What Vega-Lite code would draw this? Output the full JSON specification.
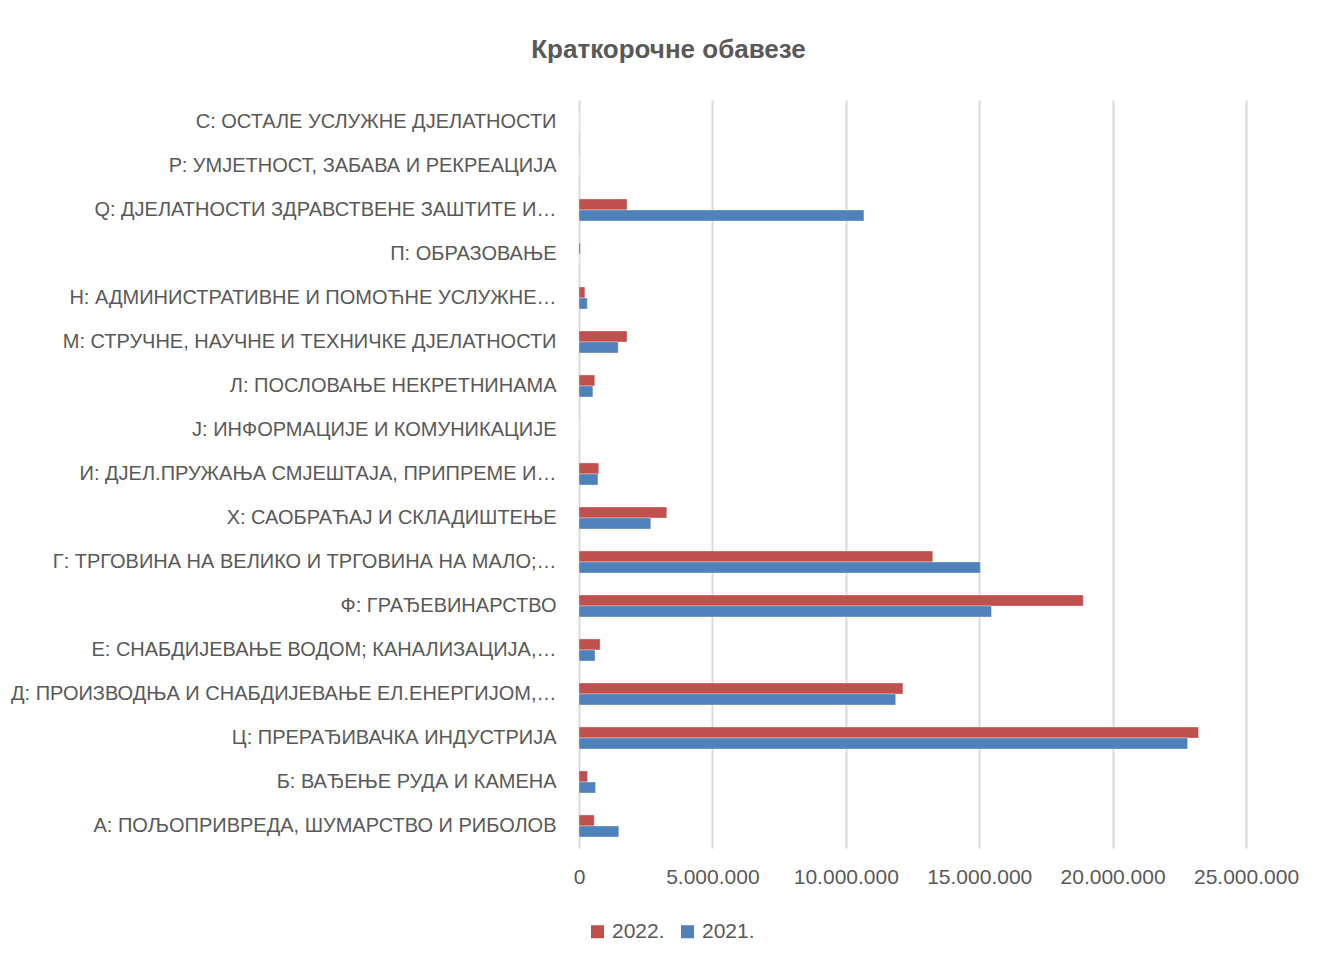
{
  "$schema": "https://vega.github.io/schema/vega-lite/v6.json",
  "autosize": {"type": "none"},
  "padding": {"left": 579, "top": 100, "right": 74, "bottom": 115},
  "width": 667,
  "height": 748,
  "background": "white",
  "config": {
    "locale": {"number": {"decimal": ",", "thousands": ".", "grouping": [3], "currency": ["", ""]}},
    "font": "Liberation Sans",
    "view": {"stroke": null}
  },
  "title": {
    "text": "Краткорочне обавезе",
    "fontSize": 26,
    "fontWeight": "bold",
    "color": "#595959",
    "font": "Liberation Sans",
    "anchor": "middle",
    "frame": "group",
    "dx": -244,
    "offset": 37
  },
  "data": {
    "values": [
      {"category": "С: ОСТАЛЕ УСЛУЖНЕ ДЈЕЛАТНОСТИ", "year": "2022.", "value": 0},
      {"category": "С: ОСТАЛЕ УСЛУЖНЕ ДЈЕЛАТНОСТИ", "year": "2021.", "value": 0},
      {"category": "Р: УМЈЕТНОСТ, ЗАБАВА И РЕКРЕАЦИЈА", "year": "2022.", "value": 0},
      {"category": "Р: УМЈЕТНОСТ, ЗАБАВА И РЕКРЕАЦИЈА", "year": "2021.", "value": 0},
      {"category": "Q: ДЈЕЛАТНОСТИ ЗДРАВСТВЕНЕ ЗАШТИТЕ И…", "year": "2022.", "value": 1800000},
      {"category": "Q: ДЈЕЛАТНОСТИ ЗДРАВСТВЕНЕ ЗАШТИТЕ И…", "year": "2021.", "value": 10680000},
      {"category": "П: ОБРАЗОВАЊЕ", "year": "2022.", "value": 50000},
      {"category": "П: ОБРАЗОВАЊЕ", "year": "2021.", "value": 0},
      {"category": "Н: АДМИНИСТРАТИВНЕ И ПОМОЋНЕ УСЛУЖНЕ…", "year": "2022.", "value": 220000},
      {"category": "Н: АДМИНИСТРАТИВНЕ И ПОМОЋНЕ УСЛУЖНЕ…", "year": "2021.", "value": 310000},
      {"category": "М: СТРУЧНЕ, НАУЧНЕ И ТЕХНИЧКЕ ДЈЕЛАТНОСТИ", "year": "2022.", "value": 1800000},
      {"category": "М: СТРУЧНЕ, НАУЧНЕ И ТЕХНИЧКЕ ДЈЕЛАТНОСТИ", "year": "2021.", "value": 1470000},
      {"category": "Л: ПОСЛОВАЊЕ НЕКРЕТНИНАМА", "year": "2022.", "value": 590000},
      {"category": "Л: ПОСЛОВАЊЕ НЕКРЕТНИНАМА", "year": "2021.", "value": 520000},
      {"category": "Ј: ИНФОРМАЦИЈЕ И КОМУНИКАЦИЈЕ", "year": "2022.", "value": 0},
      {"category": "Ј: ИНФОРМАЦИЈЕ И КОМУНИКАЦИЈЕ", "year": "2021.", "value": 0},
      {"category": "И: ДЈЕЛ.ПРУЖАЊА СМЈЕШТАЈА, ПРИПРЕМЕ И…", "year": "2022.", "value": 740000},
      {"category": "И: ДЈЕЛ.ПРУЖАЊА СМЈЕШТАЈА, ПРИПРЕМЕ И…", "year": "2021.", "value": 710000},
      {"category": "Х: САОБРАЋАЈ И СКЛАДИШТЕЊЕ", "year": "2022.", "value": 3290000},
      {"category": "Х: САОБРАЋАЈ И СКЛАДИШТЕЊЕ", "year": "2021.", "value": 2690000},
      {"category": "Г: ТРГОВИНА НА ВЕЛИКО И ТРГОВИНА НА МАЛО;…", "year": "2022.", "value": 13260000},
      {"category": "Г: ТРГОВИНА НА ВЕЛИКО И ТРГОВИНА НА МАЛО;…", "year": "2021.", "value": 15040000},
      {"category": "Ф: ГРАЂЕВИНАРСТВО", "year": "2022.", "value": 18900000},
      {"category": "Ф: ГРАЂЕВИНАРСТВО", "year": "2021.", "value": 15460000},
      {"category": "Е: СНАБДИЈЕВАЊЕ ВОДОМ; КАНАЛИЗАЦИЈА,…", "year": "2022.", "value": 790000},
      {"category": "Е: СНАБДИЈЕВАЊЕ ВОДОМ; КАНАЛИЗАЦИЈА,…", "year": "2021.", "value": 600000},
      {"category": "Д: ПРОИЗВОДЊА И СНАБДИЈЕВАЊЕ ЕЛ.ЕНЕРГИЈОМ,…", "year": "2022.", "value": 12140000},
      {"category": "Д: ПРОИЗВОДЊА И СНАБДИЈЕВАЊЕ ЕЛ.ЕНЕРГИЈОМ,…", "year": "2021.", "value": 11870000},
      {"category": "Ц: ПРЕРАЂИВАЧКА ИНДУСТРИЈА", "year": "2022.", "value": 23220000},
      {"category": "Ц: ПРЕРАЂИВАЧКА ИНДУСТРИЈА", "year": "2021.", "value": 22810000},
      {"category": "Б: ВАЂЕЊЕ РУДА И КАМЕНА", "year": "2022.", "value": 320000},
      {"category": "Б: ВАЂЕЊЕ РУДА И КАМЕНА", "year": "2021.", "value": 620000},
      {"category": "А: ПОЉОПРИВРЕДА, ШУМАРСТВО И РИБОЛОВ", "year": "2022.", "value": 570000},
      {"category": "А: ПОЉОПРИВРЕДА, ШУМАРСТВО И РИБОЛОВ", "year": "2021.", "value": 1490000}
    ]
  },
  "mark": {"type": "bar", "stroke": "white", "strokeOpacity": 0.35, "strokeWidth": 1},
  "encoding": {
    "y": {
      "field": "category",
      "type": "nominal",
      "sort": null,
      "scale": {"paddingInner": 0.5, "paddingOuter": 0.25},
      "axis": {
        "title": null,
        "domain": false,
        "ticks": false,
        "labelPadding": 23,
        "labelFontSize": 20,
        "labelColor": "#595959",
        "labelLimit": 600,
        "labelFont": "Liberation Sans"
      }
    },
    "yOffset": {
      "field": "year",
      "type": "nominal",
      "sort": ["2022.", "2021."],
      "scale": {"paddingInner": 0, "paddingOuter": 0}
    },
    "x": {
      "field": "value",
      "type": "quantitative",
      "scale": {"domain": [0, 25000000], "nice": false},
      "axis": {
        "title": null,
        "values": [0, 5000000, 10000000, 15000000, 20000000, 25000000],
        "format": ",d",
        "domain": false,
        "ticks": false,
        "grid": true,
        "gridColor": "#d9d9d9",
        "gridWidth": 2,
        "labelOverlap": false,
        "labelFlush": false,
        "labelBound": false,
        "labelPadding": 18,
        "labelFontSize": 21,
        "labelColor": "#595959",
        "labelFont": "Liberation Sans"
      }
    },
    "color": {
      "field": "year",
      "type": "nominal",
      "sort": ["2022.", "2021."],
      "scale": {"domain": ["2022.", "2021."], "range": ["#C0504D", "#4F81BD"]},
      "legend": {
        "title": null,
        "orient": "none",
        "direction": "horizontal",
        "legendX": 8,
        "legendY": 821,
        "symbolType": "square",
        "symbolSize": 169,
        "symbolStrokeWidth": 0,
        "labelFontSize": 21,
        "labelColor": "#595959",
        "labelFont": "Liberation Sans",
        "labelOffset": 4,
        "columnPadding": 12
      }
    }
  }
}
